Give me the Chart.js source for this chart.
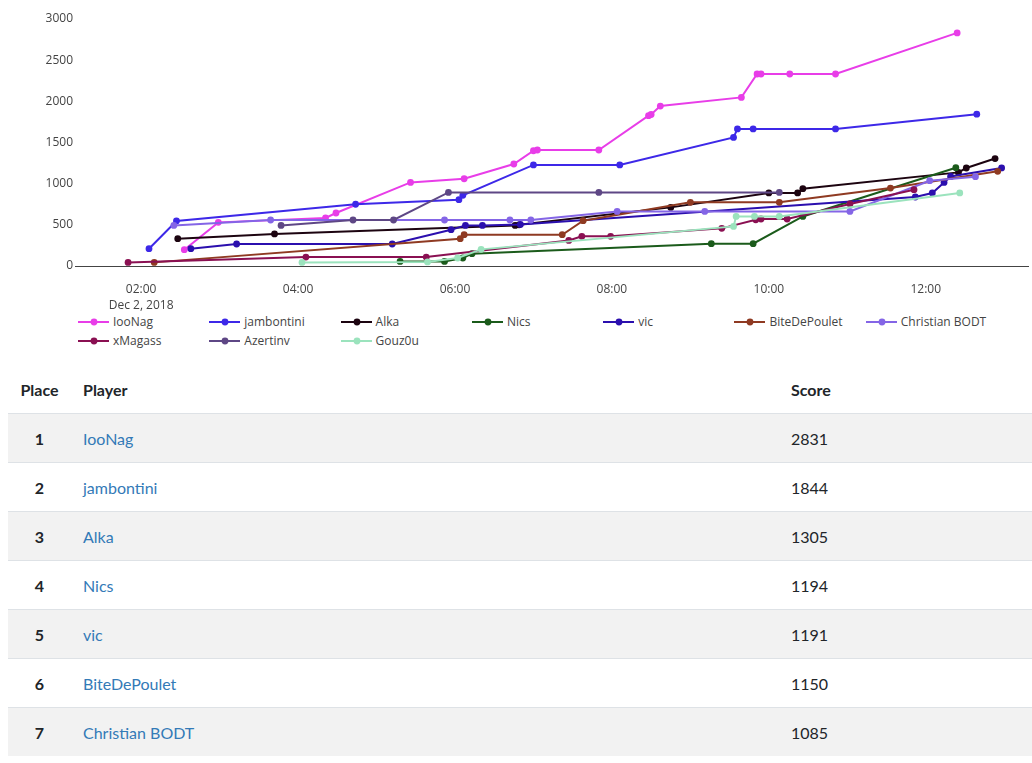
<!DOCTYPE html>
<html>
<head>
<meta charset="utf-8">
<script src="https://cdn.jsdelivr.net/npm/chart.js@4"></script>
<style>
  body { margin: 0; background: #fff; overflow: hidden; width: 1032px; height: 763px; position: relative; }
  #chartBox { position: absolute; left: 0; top: 0; width: 1032px; height: 312px; }
  #legend { position: absolute; left: 78px; top: 312px; display: grid; grid-template-columns: repeat(7, 131.3px); font: 12px "Open Sans", sans-serif; color: #444; }
  .item { height: 19px; display: flex; align-items: center; white-space: nowrap; }
  .item svg { margin-right: 4px; }
  table { position: absolute; left: 8px; top: 366px; width: 1040px; border-collapse: collapse; font: 16px Lato, sans-serif; color: #212529; }
  th { font-weight: bold; text-align: left; height: 47px; padding: 0 12px; border-bottom: 1px solid #dee2e6; }
  td { height: 48px; padding: 0 12px; border-top: 1px solid #dee2e6; }
  th.place, td.place { text-align: center; width: 39px; }
  td.place { font-weight: bold; }
  th.player, td.player { width: 684px; }
  tbody tr:nth-child(odd) { background: #f2f2f2; }
  a { color: #337ab7; text-decoration: none; }
</style>
</head>
<body>
<div id="chartBox"><canvas id="scoreChart" width="1032" height="312"></canvas></div>
<div id="legend"></div>
<table id="standings">
  <thead><tr><th class="place">Place</th><th class="player">Player</th><th>Score</th></tr></thead>
  <tbody></tbody>
</table>
<script>
const players = ['IooNag', 'jambontini', 'Alka', 'Nics', 'vic', 'BiteDePoulet', 'Christian BODT', 'xMagass', 'Azertinv', 'Gouz0u'];
const playerColors = ['#e83de8', '#3d28e8', '#1c0410', '#1b5b1b', '#2b0fae', '#8f3a22', '#8465e6', '#8a1052', '#5e4785', '#9be3bd'];

const ioonagTimes = ['02:33', '02:59', '04:21', '04:29', '05:26', '06:07', '06:45', '07:00', '07:03', '07:50', '08:28', '08:30', '08:37', '09:39', '09:51', '09:54', '10:16', '10:51', '12:24'];
const ioonagScores = [198, 530, 583, 644, 1015, 1060, 1239, 1400, 1409, 1409, 1826, 1840, 1943, 2048, 2332, 2332, 2332, 2332, 2831];

const jambontiniTimes = ['02:06', '02:27', '04:44', '06:03', '06:06', '07:00', '08:06', '09:33', '09:36', '09:48', '10:51', '12:39'];
const jambontiniScores = [210, 547, 750, 805, 858, 1228, 1228, 1562, 1665, 1665, 1665, 1844];

const alkaTimes = ['02:28', '03:42', '06:46', '06:49', '08:45', '10:00', '10:22', '10:26', '12:25', '12:31', '12:53'];
const alkaScores = [332, 389, 493, 500, 712, 887, 887, 939, 1137, 1190, 1305];

const nicsTimes = ['05:18', '05:52', '06:06', '06:13', '09:16', '09:48', '10:26', '12:23'];
const nicsScores = [56, 56, 97, 150, 271, 271, 602, 1194];

const vicTimes = ['02:38', '03:13', '05:12', '05:57', '06:08', '06:21', '06:50', '11:52', '12:05', '12:14', '12:19', '12:58'];
const vicScores = [210, 267, 267, 441, 493, 493, 505, 838, 887, 1015, 1088, 1191];

const biteTimes = ['02:10', '06:04', '06:07', '07:22', '07:38', '09:00', '10:08', '11:33', '12:55'];
const biteScores = [44, 332, 380, 380, 550, 773, 773, 947, 1150];

const christianTimes = ['02:25', '03:39', '05:52', '06:42', '06:58', '08:04', '09:11', '11:02', '12:03', '12:38'];
const christianScores = [493, 559, 559, 559, 559, 663, 663, 663, 1036, 1085];

const xmagassTimes = ['01:50', '04:06', '05:38', '07:27', '07:37', '07:59', '09:24', '09:50', '09:54', '10:14', '11:02', '11:51'];
const xmagassScores = [44, 109, 109, 311, 360, 360, 457, 562, 571, 571, 753, 927];

const azertinvTimes = ['03:47', '04:42', '05:13', '05:55', '07:50', '10:08'];
const azertinvScores = [493, 559, 559, 894, 894, 894];

const gouzouTimes = ['04:03', '05:39', '06:02', '06:20', '09:33', '09:35', '09:49', '10:08', '12:26'];
const gouzouScores = [44, 49, 97, 202, 481, 602, 602, 602, 887];

const xTicks = [2, 4, 6, 8, 10, 12];
const yTicks = [0, 500, 1000, 1500, 2000, 2500, 3000];
const dateLabel = 'Dec 2, 2018';

const places = [1, 2, 3, 4, 5, 6, 7];
const standingNames = ['IooNag', 'jambontini', 'Alka', 'Nics', 'vic', 'BiteDePoulet', 'Christian BODT'];
const standingScores = [2831, 1844, 1305, 1194, 1191, 1150, 1085];

const seriesTimes = [ioonagTimes, jambontiniTimes, alkaTimes, nicsTimes, vicTimes, biteTimes, christianTimes, xmagassTimes, azertinvTimes, gouzouTimes];
const seriesScores = [ioonagScores, jambontiniScores, alkaScores, nicsScores, vicScores, biteScores, christianScores, xmagassScores, azertinvScores, gouzouScores];

function toHours(t) {
  const [h, m] = t.split(':').map(Number);
  return h + m / 60;
}

function pad(n) {
  return String(n).padStart(2, '0');
}

const datasets = players.map((name, i) => ({
  label: name,
  data: seriesTimes[i].map((t, j) => ({ x: toHours(t), y: seriesScores[i][j] })),
  borderColor: playerColors[i],
  backgroundColor: playerColors[i],
  pointBackgroundColor: playerColors[i],
  pointBorderWidth: 0,
  pointRadius: 3.4,
  borderWidth: 2,
  tension: 0,
  order: -i
}));

const tickFont = { family: '"Open Sans", sans-serif', size: 12, lineHeight: 1.3 };

const chart = new Chart(document.getElementById('scoreChart'), {
  type: 'line',
  data: { datasets },
  options: {
    responsive: false,
    animation: false,
    layout: { padding: { top: 19, right: 0, left: 0, bottom: 0 } },
    plugins: { legend: { display: false }, tooltip: { enabled: false } },
    scales: {
      x: {
        type: 'linear',
        min: 1.157,
        max: 13.303,
        afterBuildTicks: axis => { axis.ticks = xTicks.map(v => ({ value: v })); },
        afterFit: axis => { axis.height = 46; },
        grid: { display: false, drawTicks: false },
        border: { display: true, color: '#444', width: 1 },
        ticks: {
          color: '#444',
          font: tickFont,
          padding: 16,
          maxRotation: 0,
          autoSkip: false,
          callback: v => v === xTicks[0] ? [pad(v) + ':00', dateLabel] : pad(v) + ':00'
        }
      },
      y: {
        min: 0,
        max: 3000,
        afterBuildTicks: axis => { axis.ticks = yTicks.map(v => ({ value: v })); },
        afterFit: axis => { axis.width = 75; },
        grid: { display: false, drawTicks: false },
        border: { display: false },
        ticks: { color: '#444', font: tickFont, padding: 2, callback: v => String(v) }
      }
    }
  }
});

// legend in fixed columns, built from the chart's datasets
const legendBox = document.getElementById('legend');
chart.data.datasets.forEach(ds => {
  const item = document.createElement('div');
  item.className = 'item';
  item.innerHTML = '<svg width="31" height="10"><line x1="0" y1="5" x2="31" y2="5" stroke="' + ds.borderColor +
    '" stroke-width="2"/><circle cx="16" cy="5" r="3.4" fill="' + ds.borderColor + '"/></svg><span>' + ds.label + '</span>';
  legendBox.appendChild(item);
});

const tbody = document.querySelector('#standings tbody');
places.forEach((p, i) => {
  const tr = document.createElement('tr');
  tr.innerHTML = '<td class="place">' + p + '</td><td class="player"><a href="#">' + standingNames[i] +
    '</a></td><td>' + standingScores[i] + '</td>';
  tbody.appendChild(tr);
});
</script>
</body>
</html>
